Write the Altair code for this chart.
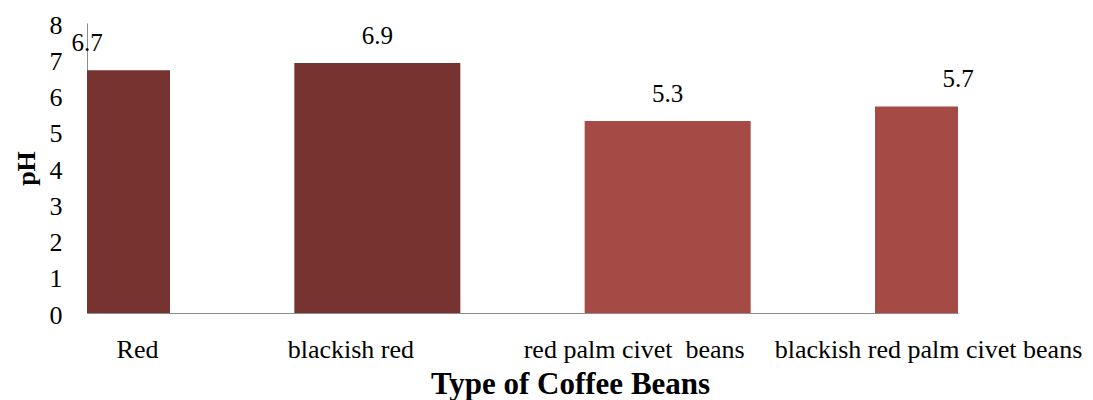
import altair as alt
import pandas as pd

# pH of four kinds of coffee beans
bean_types = ["Red", "blackish red", "red palm civet\u00a0 beans", "blackish red palm civet beans"]
ph_values = [6.7, 6.9, 5.3, 5.7]
bar_colors = ["#763330", "#763330", "#a54a44", "#a54a44"]
y_ticks = [0, 1, 2, 3, 4, 5, 6, 7, 8]

df = pd.DataFrame({"type": bean_types, "ph": ph_values, "color": bar_colors})

SERIF = "Liberation Serif"

# horizontal nudge (px) of each category label relative to its bar centre
label_shift = [50, -27, -34, -30]
offset_expr = ""
for name, shift in zip(bean_types[:-1], label_shift[:-1]):
    offset_expr += f"datum.value == {name!r} ? {shift} : "
offset_expr += str(label_shift[-1])

x = alt.X(
    "type:N",
    sort=bean_types,
    scale=alt.Scale(type="point", padding=0),
    axis=alt.Axis(
        title="Type of Coffee Beans",
        titleFont=SERIF,
        titleFontSize=31,
        titleFontWeight="bold",
        titleColor="black",
        titleX=483,
        titleY=80,
        titleAlign="center",
        titleBaseline="alphabetic",
        labelFont=SERIF,
        labelFontSize=26,
        labelColor="black",
        labelAngle=0,
        labelPadding=23,
        labelLimit=0,
        labelOverlap=False,
        labelOffset=alt.ExprRef(expr=offset_expr),
        ticks=False,
        tickSize=0,
        domainColor="#8c8c8c",
        domainWidth=1,
        grid=False,
    ),
)

y = alt.Y(
    "ph:Q",
    scale=alt.Scale(domain=[0, 8], nice=False),
    axis=alt.Axis(
        values=y_ticks,
        title="pH",
        titleFont=SERIF,
        titleFontSize=26,
        titleFontWeight="bold",
        titleColor="black",
        titlePadding=10,
        labelFont=SERIF,
        labelFontSize=26,
        labelColor="black",
        labelPadding=25,
        labelOffset=2,
        ticks=False,
        tickSize=0,
        domainColor="#8c8c8c",
        domainWidth=1,
        grid=False,
    ),
)

bars = alt.Chart(df).mark_bar(size=166, clip=True).encode(
    x=x,
    y=y,
    color=alt.Color("color:N", scale=None),
)

values = alt.Chart(df).mark_text(
    baseline="alphabetic",
    align="center",
    dy=-19,
    font=SERIF,
    fontSize=25,
    color="black",
).encode(
    x=x,
    y=y,
    text=alt.Text("ph:Q", format=".1f"),
)

chart = (
    alt.layer(bars, values)
    .properties(
        width=871,
        height=290,
        autosize=alt.AutoSizeParams(type="none"),
        padding={"left": 87, "top": 23, "right": 135, "bottom": 87},
        background="white",
    )
    .configure_view(stroke=None)
)

chart.save("out.html", embed_options={"renderer": "svg", "actions": False})
